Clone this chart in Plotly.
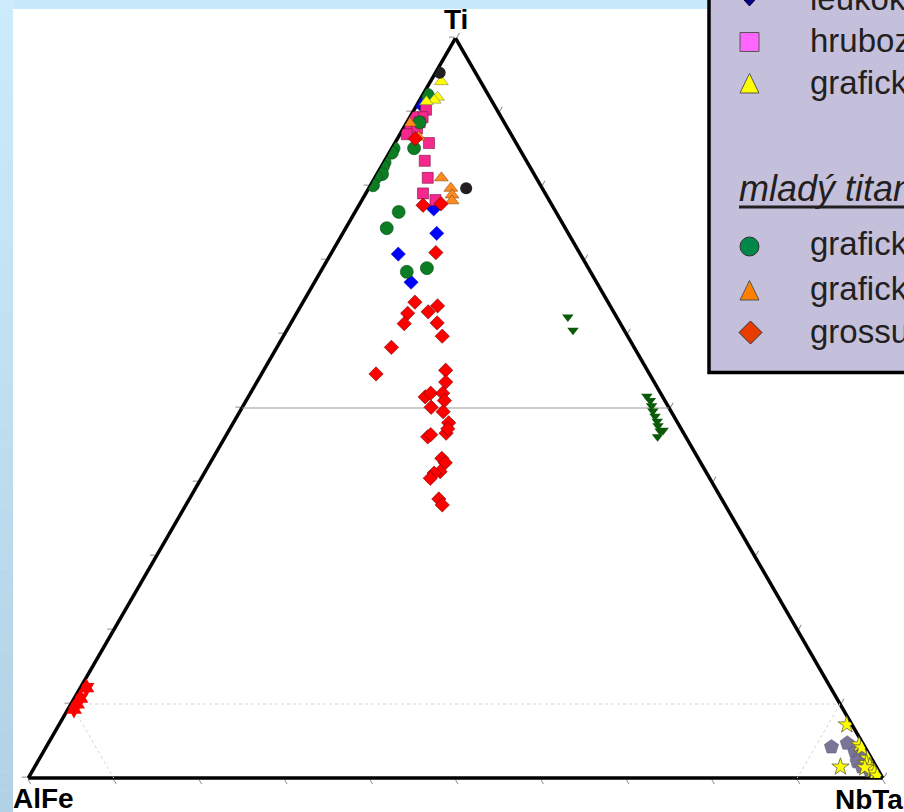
import plotly.graph_objects as go

W, H = 904, 812

# ---------------- compositions: Ti / AlFe / NbTa (%) ----------------
leuko_ti   = [91.1, 76.9, 73.6, 70.8, 67.0]
leuko_alfe = [8.6, 14.1, 15.4, 21.3, 21.7]
leuko_nbta = [0.3, 9.0, 11.0, 7.9, 11.3]

hrubo_ti   = [90.3, 89.3, 89.3, 88.6, 88.0, 87.8, 87.0, 85.8, 83.4, 81.1, 79.0, 78.1]
hrubo_alfe = [8.3, 9.2, 10.3, 9.9, 11.3, 10.6, 12.2, 10.2, 11.9, 12.7, 14.3, 13.3]
hrubo_nbta = [1.4, 1.5, 0.4, 1.5, 0.7, 1.6, 0.8, 4.0, 4.7, 6.2, 6.7, 8.6]

graf_old_ti   = [94.1, 92.0, 91.6, 91.4]
graf_old_alfe = [4.6, 6.1, 6.7, 7.7]
graf_old_nbta = [1.3, 1.9, 1.7, 0.9]

dark_ti   = [95.3, 79.7]
dark_alfe = [4.2, 8.9]
dark_nbta = [0.5, 11.4]

graf_zona_ti   = [92.3, 88.6, 85.1, 84.5, 85.1, 83.2, 82.6, 81.6, 81.2, 80.1, 76.5, 74.3, 68.4, 68.9]
graf_zona_alfe = [7.1, 9.9, 14.7, 15.2, 12.3, 16.7, 17.2, 17.8, 18.7, 19.6, 18.4, 20.9, 21.5, 18.9]
graf_zona_nbta = [0.6, 1.5, 0.2, 0.3, 2.6, 0.1, 0.2, 0.6, 0.1, 0.3, 5.1, 4.8, 10.1, 12.2]

graf_peg_ti   = [88.5, 86.6, 81.1, 79.7, 78.8, 78.0]
graf_peg_alfe = [11.1, 11.0, 11.1, 10.7, 11.0, 11.4]
graf_peg_nbta = [0.4, 2.4, 7.8, 9.6, 10.2, 10.6]

gross_ti   = [86.4, 77.4, 77.6, 71.0, 64.3, 62.8, 63.0, 63.8, 61.4, 61.5, 59.7,
              58.2, 54.6, 55.1, 53.5, 51.5, 52.0, 52.0, 51.0, 50.1, 49.5, 48.0,
              46.6, 47.2, 46.1, 46.4, 43.2, 42.6, 41.4, 41.2, 40.5, 37.7, 36.9]
gross_alfe = [11.5, 15.1, 12.9, 16.8, 22.6, 24.2, 21.7, 20.2, 25.3, 21.4, 21.7,
              28.4, 32.0, 23.6, 24.4, 27.8, 26.9, 25.5, 25.8, 27.8, 26.7, 26.8,
              27.8, 27.3, 30.2, 29.7, 30.0, 29.9, 31.1, 31.9, 32.7, 33.1, 33.1]
gross_nbta = [2.1, 7.5, 9.5, 12.2, 13.1, 13.0, 15.3, 16.0, 13.3, 17.1, 18.6,
              13.4, 13.4, 21.3, 22.1, 20.7, 21.1, 22.5, 23.2, 22.1, 23.8, 25.2,
              25.6, 25.5, 23.7, 23.9, 26.8, 27.5, 27.5, 26.9, 26.8, 29.2, 30.0]

dkgreen_ti   = [62.3, 60.5, 51.6, 51.0, 50.3, 49.6, 48.9, 48.2, 47.6, 46.9, 47.0, 46.1]
dkgreen_alfe = [5.7, 6.0, 1.8, 1.7, 1.9, 2.1, 2.2, 2.3, 2.5, 2.6, 2.2, 3.3]
dkgreen_nbta = [32.0, 33.5, 46.6, 47.3, 47.8, 48.3, 48.9, 49.5, 49.9, 50.5, 50.8, 50.6]

hexa_ti   = [12.2, 10.8, 10.0, 9.3]
hexa_alfe = [87.1, 88.5, 89.3, 90.0]
hexa_nbta = [0.7, 0.7, 0.7, 0.7]

penta_ti   = [4.2, 4.7, 3.5, 2.7, 2.2, 1.5, 2.8, 1.1]
penta_alfe = [3.9, 1.8, 1.5, 1.3, 1.9, 1.7, 0.5, 1.0]
penta_nbta = [91.9, 93.5, 95.0, 96.0, 95.9, 96.8, 96.7, 97.9]

ystar_ti   = [7.2, 4.5, 4.1, 1.5, 2.7, 2.0, 1.6, 1.1, 0.7, 0.3, 1.4]
ystar_alfe = [0.6, 0.5, 0.4, 4.2, 0.4, 0.9, 0.7, 0.7, 0.6, 0.5, 1.4]
ystar_nbta = [92.2, 95.0, 95.5, 94.3, 96.9, 97.1, 97.7, 98.2, 98.7, 99.2, 97.2]

# reference levels drawn inside the triangle
half_level = 50
corner_level = 10

legend_old = ["leukokratní granit", "hrubozrnný pegmatit", "grafický pegmatit"]
legend_young_title = "mladý titanit"
legend_young = ["grafická zóna", "grafický pegmatit", "grossulárový skarn"]

FONT = "Liberation Sans, Arial, sans-serif"

fig = go.Figure()

# reference lines (Ti = 50 %, and the 90 % corner sub-triangle)
fig.add_trace(go.Scatterternary(
    a=[half_level, half_level], b=[100 - half_level, 0], c=[0, 100 - half_level],
    mode="lines", line=dict(color="#999999", width=1.2), hoverinfo="skip"))
cl = corner_level
for a_, b_, c_ in [([cl, cl], [100 - cl, 0], [0, 100 - cl]),
                   ([cl, 0], [100 - cl, 100 - cl], [0, cl]),
                   ([cl, 0], [0, cl], [100 - cl, 100 - cl])]:
    fig.add_trace(go.Scatterternary(
        a=a_, b=b_, c=c_, mode="lines",
        line=dict(color="#D5D5D5", width=1, dash="dot"), hoverinfo="skip"))

series = [
    (leuko_ti, leuko_alfe, leuko_nbta, "diamond", 11, "#0000FF", "#1010A0", 0.5),
    (hrubo_ti, hrubo_alfe, hrubo_nbta, "square", 11, "#F5288C", "#7A1446", 0.6),
    (graf_zona_ti, graf_zona_alfe, graf_zona_nbta, "circle", 13, "#0B7D22", "#0A4A14", 0.6),
    (graf_old_ti, graf_old_alfe, graf_old_nbta, "triangle-up", 12, "#FFFF00", "#808060", 0.6),
    (dark_ti, dark_alfe, dark_nbta, "circle", 12, "#231F20", "#231F20", 0),
    (graf_peg_ti, graf_peg_alfe, graf_peg_nbta, "triangle-up", 12, "#FF8A1E", "#8A4A10", 0.6),
    (gross_ti, gross_alfe, gross_nbta, "diamond", 11, "#FF0000", "#700000", 0.6),
    (dkgreen_ti, dkgreen_alfe, dkgreen_nbta, "triangle-down", 10, "#0A5A0A", "#0A5A0A", 0),
    (hexa_ti, hexa_alfe, hexa_nbta, "hexagram", 14, "#FF0000", "#FF0000", 0),
    (penta_ti, penta_alfe, penta_nbta, "pentagon", 15, "#7A7499", "#5A5670", 0.5),
    (ystar_ti, ystar_alfe, ystar_nbta, "star", 13, "#FFFF00", "#606040", 0.8),
]
for ti, alfe, nbta, sym, size, col, lcol, lw in series:
    fig.add_trace(go.Scatterternary(
        a=ti, b=alfe, c=nbta, mode="markers", hoverinfo="skip",
        marker=dict(symbol=sym, size=size, color=col, line=dict(color=lcol, width=lw))))


def fx(x):
    return x / W


def fy(y):
    return 1 - y / H


def poly(points):
    return "M " + " L ".join(f"{fx(x):.5f},{fy(y):.5f}" for x, y in points) + " Z"


shapes = []
# page background: blue frame with a vertical gradient on the left band
shapes.append(dict(type="rect", xref="paper", yref="paper", x0=0, x1=1, y0=0, y1=1,
                   fillcolor="#C8E9FC", line=dict(width=0), layer="below"))
n = 40
top_rgb, bot_rgb = (204, 235, 252), (178, 209, 228)
for i in range(n):
    t = (i + 0.5) / n
    r, g, b = [round(top_rgb[k] + (bot_rgb[k] - top_rgb[k]) * t) for k in range(3)]
    shapes.append(dict(type="rect", xref="paper", yref="paper",
                       x0=0, x1=fx(13), y0=fy(H * (i + 1) / n), y1=fy(H * i / n),
                       fillcolor=f"rgb({r},{g},{b})", line=dict(width=0), layer="below"))
shapes.append(dict(type="rect", xref="paper", yref="paper", x0=fx(13), x1=1,
                   y0=0, y1=fy(9), fillcolor="white", line=dict(width=0), layer="below"))

# legend panel
shapes.append(dict(type="rect", xref="paper", yref="paper", x0=fx(709), x1=fx(W + 30),
                   y0=fy(372.5), y1=fy(-30), fillcolor="#C4C0DC",
                   line=dict(color="black", width=3.5), layer="below"))
shapes.append(dict(type="line", xref="paper", yref="paper", x0=fx(739), x1=fx(W + 10),
                   y0=fy(207), y1=fy(207), line=dict(color="#231F20", width=2.8)))

# legend keys
gx = 749.5
shapes += [
    dict(type="path", xref="paper", yref="paper",
         path=poly([(gx, -16), (gx + 10, -5), (gx, 6), (gx - 10, -5)]),
         fillcolor="#000080", line=dict(color="#000040", width=1)),
    dict(type="rect", xref="paper", yref="paper", x0=fx(gx - 9.5), x1=fx(gx + 9.5),
         y0=fy(51.5), y1=fy(32.5), fillcolor="#FF66FF", line=dict(color="#555", width=1)),
    dict(type="path", xref="paper", yref="paper",
         path=poly([(gx, 73.5), (gx + 9.5, 93), (gx - 9.5, 93)]),
         fillcolor="#FFFF00", line=dict(color="#555", width=1)),
    dict(type="circle", xref="paper", yref="paper", x0=fx(gx - 9.5), x1=fx(gx + 9.5),
         y0=fy(256), y1=fy(237), fillcolor="#00884A", line=dict(color="#333", width=1)),
    dict(type="path", xref="paper", yref="paper",
         path=poly([(gx, 280.5), (gx + 9.5, 300), (gx - 9.5, 300)]),
         fillcolor="#FF8000", line=dict(color="#555", width=1)),
    dict(type="path", xref="paper", yref="paper",
         path=poly([(gx + 1, 321), (gx + 12.5, 332.5), (gx + 1, 344), (gx - 10.5, 332.5)]),
         fillcolor="#E83C00", line=dict(color="#333", width=1)),
]

annotations = []
txt_font = dict(family=FONT, size=33, color="#231F20")
for label, yc in zip(legend_old, [-1, 41, 83]):
    annotations.append(dict(text=label, x=fx(808), y=fy(yc), xref="paper", yref="paper",
                            xanchor="left", yanchor="middle", showarrow=False, font=txt_font))
annotations.append(dict(text=f"<i>{legend_young_title}</i>", x=fx(737), y=fy(188),
                        xref="paper", yref="paper", xanchor="left", yanchor="middle",
                        showarrow=False, font=dict(family=FONT, size=36, color="#231F20")))
for label, yc in zip(legend_young, [244, 288, 331]):
    annotations.append(dict(text=label, x=fx(808), y=fy(yc), xref="paper", yref="paper",
                            xanchor="left", yanchor="middle", showarrow=False, font=txt_font))

corner_font = dict(family=FONT, size=28, color="black")
annotations += [
    dict(text="<b>Ti</b>", x=fx(455.5), y=fy(20), xref="paper", yref="paper",
         xanchor="center", yanchor="middle", showarrow=False, font=corner_font),
    dict(text="<b>AlFe</b>", x=fx(11), y=fy(798), xref="paper", yref="paper",
         xanchor="left", yanchor="middle", showarrow=False, font=corner_font),
    dict(text="<b>NbTa</b>", x=fx(833), y=fy(799), xref="paper", yref="paper",
         xanchor="left", yanchor="middle", showarrow=False, font=corner_font),
]

axis_style = dict(title=dict(text=""), showticklabels=False, ticks="outside", ticklen=5,
                  tickwidth=1, tickcolor="#8C8C8C", dtick=10, tick0=0, showgrid=False,
                  showline=True, linecolor="black", linewidth=3.5, layer="below traces")

fig.update_layout(
    width=W, height=H,
    margin=dict(l=0, r=0, t=0, b=0, pad=0, autoexpand=False),
    paper_bgcolor="#C8E9FC",
    plot_bgcolor="rgba(0,0,0,0)",
    showlegend=False,
    hovermode=False,
    ternary=dict(
        sum=100,
        domain=dict(x=[28 / W, 883 / W], y=[34 / H, 774 / H]),
        bgcolor="rgba(255,255,255,0)",
        aaxis=axis_style, baxis=axis_style, caxis=axis_style,
    ),
    shapes=shapes,
    annotations=annotations,
)

fig.write_html("out.html")
